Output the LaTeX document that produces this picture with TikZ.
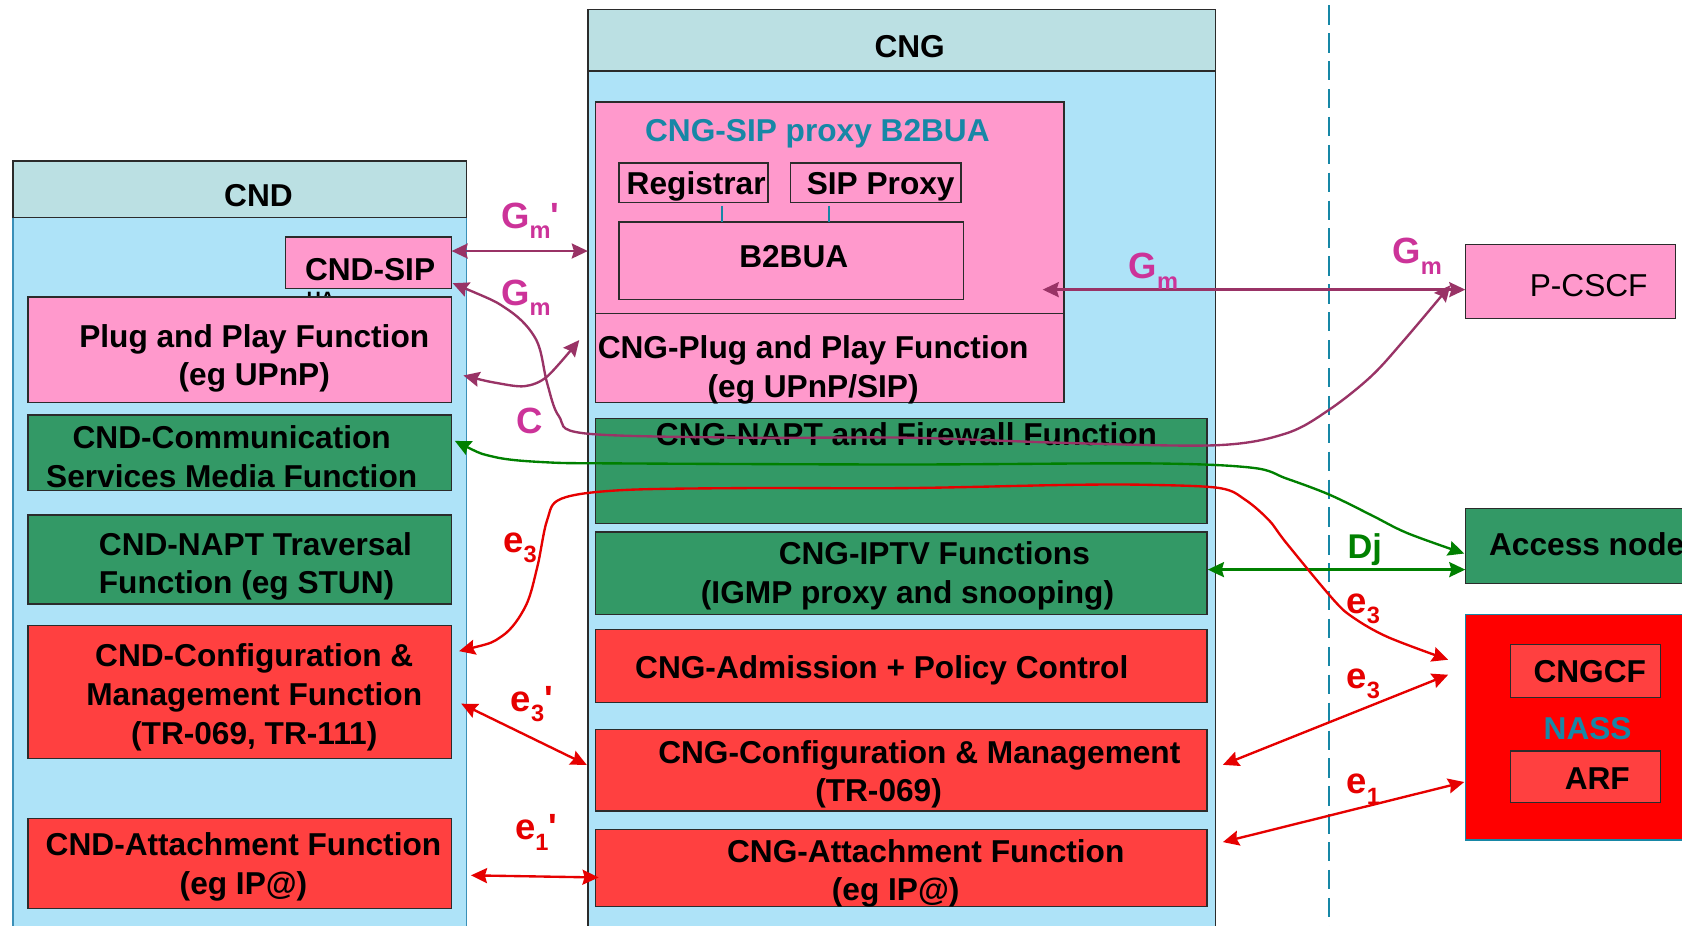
\documentclass[tikz,border=0pt]{standalone}
\usepackage{fontspec}
\setmainfont{Liberation Sans}
\usetikzlibrary{arrows.meta,calc}

\definecolor{hdr}{HTML}{BBE0E3}
\definecolor{bodyc}{HTML}{AEE3F8}
\definecolor{pinkf}{HTML}{FF99CC}
\definecolor{greenf}{HTML}{339966}
\definecolor{redf}{HTML}{FF4040}
\definecolor{nassf}{HTML}{FF0000}
\definecolor{tealc}{HTML}{1787A6}
\definecolor{edge}{HTML}{2B2B2B}
\definecolor{lblmag}{HTML}{CC3399}
\definecolor{arrpur}{HTML}{993366}
\definecolor{arrgrn}{HTML}{008000}
\definecolor{arrred}{HTML}{E60000}
\definecolor{sideblue}{HTML}{3A8FB7}

\newcommand{\lsub}[1]{\raisebox{-9.5pt}{\fontsize{22}{22}\selectfont #1}}
\newcommand{\lpr}{\textquotesingle}

\begin{document}
\begin{tikzpicture}[x=1pt,y=-1pt,
  blk/.style={draw=edge, line width=1.3pt, anchor=north west, inner sep=0pt, outer sep=0pt},
  pk/.style={blk, fill=pinkf},
  gr/.style={blk, fill=greenf},
  rd/.style={blk, fill=redf},
  txt/.style={font=\bfseries\fontsize{29.5}{36}\selectfont, align=center, inner sep=0pt},
  lbl/.style={font=\bfseries\fontsize{34}{34}\selectfont, inner sep=0pt, anchor=base west},
  ar/.tip={Stealth[length=15pt,width=14pt,inset=2pt]},
  purl/.style={draw=arrpur, line width=2.2pt, ar-ar},
  grl/.style={draw=arrgrn, line width=2.2pt, ar-ar},
  rdl/.style={draw=arrred, line width=2.2pt, ar-ar},
]
\path[use as bounding box, clip] (0,0) rectangle (1568,863);
\fill[white] (0,0) rectangle (1568,863);

% ---------------- CND ----------------
\node[blk, fill=bodyc, draw=sideblue, minimum width=423pt, minimum height=690pt] (cndbody) at (12,203) {};
\node[blk, fill=hdr, minimum width=423pt, minimum height=53pt] (cndhead) at (12,150) {};
\node[txt] (t-cnd) at (241,182) {CND};

\node[pk, minimum width=155pt, minimum height=48pt] (cndsip) at (266,221) {};
\node[txt] (t-cndsip) at (345,251) {CND-SIP};
\node[txt, font=\bfseries\fontsize{18}{18}\selectfont] (t-ua) at (299,279) {UA};

\node[pk, minimum width=395pt, minimum height=98pt] (cndpnp) at (26,277) {};
\node[txt] (t-cndpnp) at (237,334) {Plug and Play Function\\(eg UPnP)};

\node[gr, minimum width=395pt, minimum height=70pt] (cndcsm) at (26,387) {};
\node[txt] (t-cndcsm) at (216,426) {CND-Communication\\Services Media Function};

\node[gr, minimum width=395pt, minimum height=83pt] (cndnapt) at (26,480) {};
\node[txt, align=left, anchor=west] (t-cndnapt) at (92,528) {CND-NAPT Traversal\\Function (eg STUN)};

\node[rd, minimum width=395pt, minimum height=124pt] (cndcfg) at (26,583) {};
\node[txt] (t-cndcfg) at (237,650) {CND-Configuration \&\\Management Function\\(TR-069, TR-111)};

\node[rd, minimum width=395pt, minimum height=84pt] (cndatt) at (26,763) {};
\node[txt] (t-cndatt) at (227,808) {CND-Attachment Function\\(eg IP@)};

% ---------------- CNG ----------------
\node[blk, fill=bodyc, minimum width=585pt, minimum height=820pt] (cngbody) at (548,66) {};
\node[blk, fill=hdr, minimum width=585pt, minimum height=57pt] (cnghead) at (548,9) {};
\node[txt] (t-cng) at (848,43) {CNG};

\node[pk, minimum width=437pt, minimum height=197pt] (sipbox) at (555,95) {};
\node[txt, text=tealc] (t-sipbox) at (762,125) {CNG-SIP proxy B2BUA};
\node[pk, minimum width=139pt, minimum height=37pt] (reg) at (577,152) {};
\node[txt] (t-reg) at (649,174) {Registrar};
\node[pk, minimum width=159pt, minimum height=37pt] (sipproxy) at (737,152) {};
\node[txt] (t-sipproxy) at (821,174) {SIP Proxy};
\node[pk, minimum width=321pt, minimum height=72pt] (b2bua) at (577,207) {};
\node[txt] (t-b2bua) at (740,239) {B2BUA};

\coordinate (lk1-a) at ($(reg.south)+(26.5,3)$);
\coordinate (lk2-a) at ($(sipproxy.south)+(-43.5,3)$);
\draw[tealc, line width=2pt] (lk1-a) -- (lk1-a |- b2bua.north);
\draw[tealc, line width=2pt] (lk2-a) -- (lk2-a |- b2bua.north);

\node[pk, minimum width=437pt, minimum height=83pt] (cngpnp) at (555,292) {};
\node[txt] (t-cngpnp) at (758,345) {CNG-Plug and Play Function\\(eg UPnP/SIP)};

\node[gr, minimum width=570pt, minimum height=98pt] (cngnapt) at (555,390) {};
\node[txt] (t-cngnapt) at (845,405) {CNG-NAPT and Firewall Function};

\node[gr, minimum width=570pt, minimum height=77pt] (cngiptv) at (555,496) {};
\node[txt] (t-cngiptv) at (846,537) {\hspace*{50pt}CNG-IPTV Functions\\(IGMP proxy and snooping)};

\node[rd, minimum width=570pt, minimum height=68pt] (cngadm) at (555,587) {};
\node[txt] (t-cngadm) at (822,625) {CNG-Admission + Policy Control};

\node[rd, minimum width=570pt, minimum height=76pt] (cngcfg) at (555,680) {};
\node[txt] (t-cngcfg) at (819,722) {\hspace*{76pt}CNG-Configuration \& Management\\(TR-069)};

\node[rd, minimum width=570pt, minimum height=72pt] (cngatt) at (555,773) {};
\node[txt] (t-cngatt) at (835,814) {\hspace*{56pt}CNG-Attachment Function\\(eg IP@)};

% ---------------- separator ----------------
\coordinate (sep-top) at (1239,5);
\coordinate (sep-bot) at (1239,870);
\draw[tealc, line width=2.2pt, dash pattern=on 18pt off 8pt] (sep-top) -- (sep-bot);

% ---------------- network side ----------------
\node[pk, minimum width=196pt, minimum height=69pt] (pcscf) at (1366,228) {};
\node[txt, font=\fontsize{29.5}{36}\selectfont] (t-pcscf) at (1481,266) {P-CSCF};

\node[gr, minimum width=260pt, minimum height=70pt] (access) at (1366,474) {};
\node[txt, anchor=west] (t-access) at (1388,507) {Access node};

\node[blk, fill=nassf, draw=tealc, line width=1.5pt, minimum width=260pt, minimum height=210pt] (nass) at (1366,573) {};
\node[rd, minimum width=140pt, minimum height=49pt] (cngcf) at (1408,601) {};
\node[txt] (t-cngcf) at (1482,626) {CNGCF};
\node[txt, text=tealc] (t-nass) at (1480,679) {NASS};
\node[rd, minimum width=140pt, minimum height=48pt] (arf) at (1408,700) {};
\node[txt] (t-arf) at (1489,726) {ARF};

% ---------------- connector end points ----------------
\coordinate (gmp-l) at ($(cndsip.east)+(0,-11)$);
\coordinate (gm1-s) at ($(cndsip.east)+(1,19)$);
\coordinate (gm1-e) at ($(pcscf.west)+(-14,3.5)$);
\coordinate (gm2-s) at ($(sipbox.east)+(-20,76.5)$);
\coordinate (c-s) at ($(cndpnp.east)+(11,24)$);
\coordinate (c-e) at ($(cngpnp.west)+(-15,-16.5)$);
\coordinate (g-s) at ($(cndcsm.east)+(3,-11)$);
\coordinate (g-e) at ($(access.west)+(-1,7)$);
\coordinate (dj-s) at ($(cngiptv.east)+(1,-3.5)$);
\coordinate (r-s) at ($(cndcfg.east)+(7,-38)$);
\coordinate (r-e) at ($(nass.west)+(-16,-63)$);
\coordinate (e3b-s) at ($(cngcfg.east)+(15,-5)$);
\coordinate (e3b-e) at ($(nass.west)+(-16,-49)$);
\coordinate (e1-s) at ($(cngatt.east)+(15,-24)$);
\coordinate (e1-e) at ($(nass.west)+(-1,51)$);
\coordinate (e3p-s) at ($(cndcfg.east)+(9,11)$);
\coordinate (e3p-e) at ($(cngcfg.west)+(-8,-5)$);
\coordinate (e1p-s) at ($(cndatt.east)+(18,11)$);
\coordinate (e1p-e) at ($(cngatt.west)+(3,9)$);

% ---------------- connectors ----------------
\draw[purl] (gmp-l) -- (gmp-l -| cngbody.west);
\draw[purl] plot[smooth, tension=0.55] coordinates {(gm1-s) (474,289) (500,317) (510,357) (521,388) (545,404) (693,408) (845,408) (997,413) (1135,415) (1199,404) (1239,382) (1278,351) (1309,317) (gm1-e)};
\draw[purl] (gm2-s) -- (gm2-s -| pcscf.west);
\draw[purl] plot[smooth] coordinates {(c-s) (463,357) (489,360) (510,351) (c-e)};

\draw[grl] plot[smooth, tension=0.55] coordinates {(g-s) (461,426) (510,431) (578,432) (845,433) (1072,432) (1167,436) (1199,446) (1239,461) (1278,480) (1312,497) (g-e)};
\draw[grl] (dj-s) -- (dj-s -| access.west);

\draw[rdl] plot[smooth, tension=0.55] coordinates {(r-s) (468,593) (490,565) (501,528) (510,485) (523,465) (578,457) (693,455) (845,455) (997,452) (1072,452) (1137,455) (1161,466) (1183,485) (1199,506) (1243,559) (1262,576) (1294,594) (r-e)};
\draw[rdl] (e3b-s) -- (e3b-e);
\draw[rdl] (e1-s) -- (e1-e);
\draw[rdl] (e3p-s) -- (e3p-e);
\draw[rdl] (e1p-s) -- (e1p-e);

% ---------------- interface labels ----------------
\node[lbl, text=lblmag] (l-gmp) at (467,213) {G\lsub{m}\lpr};
\node[lbl, text=lblmag] (l-gm1) at (467,285) {G\lsub{m}};
\node[lbl, text=lblmag] (l-c) at (481,404) {C};
\node[lbl, text=lblmag] (l-gm2) at (1052,260) {G\lsub{m}};
\node[lbl, text=lblmag] (l-gm3) at (1298,246) {G\lsub{m}};
\node[lbl, text=arrred] (l-e3a) at (469,515) {e\lsub{3}};
\node[lbl, text=arrred] (l-e3p) at (476,663) {e\lsub{3}\lpr};
\node[lbl, text=arrred] (l-e1p) at (480,783) {e\lsub{1}\lpr};
\node[lbl, text=arrgrn, font=\bfseries\fontsize{32}{32}\selectfont] (l-dj) at (1256,521) {Dj};
\node[lbl, text=arrred] (l-e3b) at (1255,572) {e\lsub{3}};
\node[lbl, text=arrred] (l-e3c) at (1255,642) {e\lsub{3}};
\node[lbl, text=arrred] (l-e1) at (1255,740) {e\lsub{1}};
\end{tikzpicture}
\end{document}
